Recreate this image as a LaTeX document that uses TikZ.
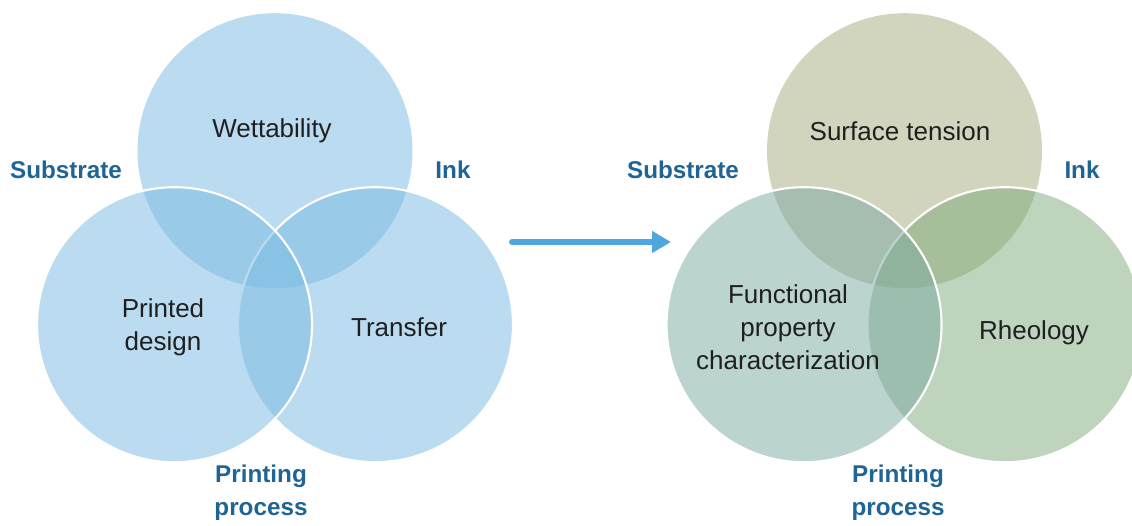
\documentclass[tikz,border=0pt]{standalone}
\usepackage{fontspec}
\setmainfont{Liberation Sans}
\usetikzlibrary{arrows.meta}

\definecolor{setblue}{RGB}{119,185,225}
\definecolor{settop}{RGB}{165,171,125}
\definecolor{setleft}{RGB}{121,169,161}
\definecolor{setright}{RGB}{125,169,121}
\definecolor{labelblue}{RGB}{31,100,150}
\definecolor{arrowblue}{RGB}{79,167,222}

\tikzset{
    region/.style={font=\fontsize{7.4}{9.4}\selectfont, align=center, text=black!88},
    factor/.style={font=\bfseries\fontsize{6.9}{9.4}\selectfont, align=center, text=labelblue},
}

\begin{document}
\begin{tikzpicture}
        \useasboundingbox (0,0) rectangle (11.32,-5.25);
        \clip (0,0) rectangle (11.32,-5.25);
        % before
        \scope[shift={(2.75,-2.667)}]
            \foreach \a/\c/\d in {90/setblue/none,330/setblue/white,210/setblue/white} {
                \path[fill=\c, fill opacity=.5, draw=\d, line width=.6pt] (\a:1.16) circle (1.375);
            }
        \endscope
        % after
        \scope[shift={(9.045,-2.667)}]
            \foreach \a/\c/\d in {90/settop/none,330/setright/white,210/setleft/white} {
                \path[fill=\c, fill opacity=.5, draw=\d, line width=.6pt] (\a:1.16) circle (1.375);
            }
        \endscope
        \node[region] (wetting) at (2.72,-1.31) {Wettability};
        \node[region] (design) at (1.63,-3.27) {Printed\\design};
        \node[region] (transfer) at (3.99,-3.27) {Transfer};
        \node[factor] (substrateL) at (0.66,-1.70) {Substrate};
        \node[factor] (inkL) at (4.53,-1.70) {Ink};
        \node[factor] (processL) at (2.61,-4.93) {Printing\\process};
        \node[region] (tension) at (9.00,-1.31) {Surface tension};
        \node[region] (property) at (7.88,-3.27) {Functional\\property\\characterization};
        \node[region] (rheology) at (10.34,-3.33) {Rheology};
        \node[factor] (substrateR) at (6.83,-1.70) {Substrate};
        \node[factor] (inkR) at (10.82,-1.70) {Ink};
        \node[factor] (processR) at (8.98,-4.93) {Printing\\process};
        \coordinate (arrowtail) at (5.12,-2.42);
        \coordinate (arrowtip) at (6.71,-2.42);
        \draw[arrowblue, line width=1.7pt, line cap=round, -{Triangle[length=1.9mm,width=2.1mm]}] (arrowtail) -- (arrowtip);
\end{tikzpicture}
\end{document}
